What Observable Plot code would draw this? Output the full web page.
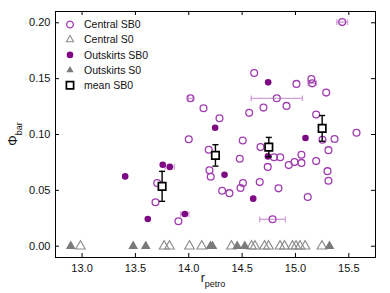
<!DOCTYPE html>
<html><head><meta charset="utf-8">
<script src="https://cdn.jsdelivr.net/npm/d3@7"></script>
<script src="https://cdn.jsdelivr.net/npm/@observablehq/plot@0.6"></script>
<style>
body{margin:0;background:#fff;}
svg{font-family:"Liberation Sans",Arial,sans-serif;}
</style></head><body><div id="chart"></div>
<script>
// Central SB0 (open circles)
const centralSB0_x = [15.438,14.613,15.009,15.149,15.157,15.288,14.825,14.700,14.916,14.138,14.016,14.288,14.566,15.194,15.253,15.366,15.572,14.506,14.672,14.000,14.187,14.478,14.194,14.206,13.704,13.688,13.903,14.740,14.799,14.857,15.056,14.991,14.937,15.056,15.194,15.309,15.300,15.309,15.115,14.841,14.665,14.508,14.485,14.313,14.381,14.785];
const centralSB0_y = [0.2006,0.1551,0.1453,0.1496,0.1458,0.1375,0.1324,0.1241,0.1256,0.1235,0.1324,0.1146,0.1194,0.1179,0.0953,0.0960,0.1015,0.0946,0.0887,0.0958,0.0863,0.0783,0.0679,0.0622,0.0565,0.0393,0.0223,0.0710,0.0797,0.0797,0.0819,0.0753,0.0726,0.0746,0.0762,0.0860,0.0672,0.0586,0.0440,0.0518,0.0574,0.0565,0.0521,0.0496,0.0475,0.0241];
const centralSB0_xerr = [0.05,0,0,0,0.04,0,0.24,0,0,0,0.02,0,0,0,0,0,0,0,0,0,0,0,0,0,0,0,0,0,0,0,0,0,0,0,0,0,0,0,0,0,0,0,0,0,0,0.12];
// Outskirts SB0 (filled circles)
const outSB0_x = [14.744,14.247,15.094,14.742,13.756,13.822,13.404,13.616,13.963,14.335,14.604];
const outSB0_y = [0.1467,0.1060,0.0969,0.0804,0.0729,0.0710,0.0625,0.0244,0.0288,0.0640,0.0426];
const outSB0_xerr = [0,0,0,0,0,0.044,0,0,0.038,0,0];
// Central S0 (open triangles, Phi = 0)
const centralS0_x = [12.985,13.769,13.819,14.007,14.122,14.400,14.588,14.620,14.710,14.747,14.855,14.897,14.972,15.005,15.042,15.090,15.248];
// Outskirts S0 (filled triangles, Phi = 0)
const outS0_x = [12.894,13.479,13.597,14.203,14.222,14.454,14.525,15.319];
// mean SB0
const mean_x = [13.75,14.25,14.75,15.25];
const mean_y = [0.0536,0.0813,0.0887,0.1055];
const mean_err = [0.0134,0.0096,0.0087,0.0115];
// ticks
const xTicks = [13.0,13.5,14.0,14.5,15.0,15.5];
const yTicks = [0.00,0.05,0.10,0.15,0.20];

const cSB0 = centralSB0_x.map((x,i)=>({x, y:centralSB0_y[i], e:centralSB0_xerr[i]}));
const oSB0 = outSB0_x.map((x,i)=>({x, y:outSB0_y[i], e:outSB0_xerr[i]}));
const cS0 = centralS0_x.map(x=>({x, y:0}));
const oS0 = outS0_x.map(x=>({x, y:0}));
const means = mean_x.map((x,i)=>({x, y:mean_y[i], e:mean_err[i]}));
const errC = cSB0.filter(d=>d.e>0), errO = oSB0.filter(d=>d.e>0);

const capV = {draw(ctx, size){ const h = Math.sqrt(size)/2; ctx.moveTo(0,-h); ctx.lineTo(0,h);} };
const capH = {draw(ctx, size){ const h = Math.sqrt(size)/2; ctx.moveTo(-h,0); ctx.lineTo(h,0);} };

const W=390, H=293, mL=55, mR=15, mT=11, mB=36;
const openPurple = "#a03cb0", darkPurple = "#7d0a82", errPurple = "#d2a0d8";
const fx = d3.format(".1f"), fy = d3.format(".2f");

const chart = Plot.plot({
  width: W, height: H,
  marginLeft: mL, marginRight: mR, marginTop: mT, marginBottom: mB,
  style: {fontFamily: '"Liberation Sans", Arial, sans-serif', fontSize: "11px", background: "#fff"},
  x: {domain: [12.751, 15.75], label: null},
  y: {domain: [-0.0101, 0.2101], label: null},
  marks: [
    Plot.axisX(xTicks, {tickSize: 0, tickPadding: 7, fontSize: 11, fill: "#111", tickFormat: fx, label: null}),
    Plot.axisY(yTicks, {tickSize: 0, tickPadding: 5, fontSize: 11, fill: "#111", tickFormat: fy, label: null}),
    // inward ticks on all four sides
    Plot.tickX(xTicks, {x: d=>d, insetTop: H-mT-mB-4, stroke: "#000"}),
    Plot.tickX(xTicks, {x: d=>d, insetBottom: H-mT-mB-4, stroke: "#000"}),
    Plot.tickY(yTicks, {y: d=>d, insetRight: W-mL-mR-4, stroke: "#000"}),
    Plot.tickY(yTicks, {y: d=>d, insetLeft: W-mL-mR-4, stroke: "#000"}),
    // horizontal error bars
    Plot.ruleY(errC, {y:"y", x1: d=>d.x-d.e, x2: d=>d.x+d.e, stroke: errPurple, strokeWidth: 1.3}),
    Plot.dot(errC, {x: d=>d.x-d.e, y:"y", symbol: capV, r: 3.2, stroke: errPurple, strokeWidth: 1.3}),
    Plot.dot(errC, {x: d=>d.x+d.e, y:"y", symbol: capV, r: 3.2, stroke: errPurple, strokeWidth: 1.3}),
    Plot.ruleY(errO, {y:"y", x1: d=>d.x-d.e, x2: d=>d.x+d.e, stroke: errPurple, strokeWidth: 1.3}),
    Plot.dot(errO, {x: d=>d.x-d.e, y:"y", symbol: capV, r: 3.2, stroke: errPurple, strokeWidth: 1.3}),
    Plot.dot(errO, {x: d=>d.x+d.e, y:"y", symbol: capV, r: 3.2, stroke: errPurple, strokeWidth: 1.3}),
    // S0 triangles
    Plot.dot(cS0, {x:"x", y:"y", symbol: "triangle", r: 3.6, stroke: "#8c8c8c", strokeWidth: 1.1, fill: "none"}),
    Plot.dot(oS0, {x:"x", y:"y", symbol: "triangle", r: 3.6, fill: "#7a7a7a", stroke: "none"}),
    // SB0 circles
    Plot.dot(cSB0, {x:"x", y:"y", r: 3.4, stroke: openPurple, strokeWidth: 1.3, fill: "none"}),
    Plot.dot(oSB0, {x:"x", y:"y", r: 3.3, fill: darkPurple, stroke: "none"}),
    // mean SB0 with vertical error bars
    Plot.ruleX(means, {x:"x", y1: d=>d.y-d.e, y2: d=>d.y+d.e, stroke: "#000", strokeWidth: 1.4}),
    Plot.dot(means, {x:"x", y: d=>d.y-d.e, symbol: capH, r: 3.4, stroke: "#000", strokeWidth: 1.4}),
    Plot.dot(means, {x:"x", y: d=>d.y+d.e, symbol: capH, r: 3.4, stroke: "#000", strokeWidth: 1.4}),
    Plot.dot(means, {x:"x", y:"y", symbol: "square", r: 4.2, fill: "#fff", stroke: "#000", strokeWidth: 1.7}),
    Plot.frame({stroke: "#000", strokeWidth: 1})
  ]
});
document.getElementById("chart").appendChild(chart);

// Axis labels with subscripts and legend
const svg = d3.select(chart);
const ylab = svg.append("text")
  .attr("transform", `translate(17,${mT + (H-mT-mB)/2}) rotate(-90)`)
  .attr("text-anchor", "middle").attr("font-size", 13).attr("fill", "#111");
ylab.append("tspan").text("Φ");
ylab.append("tspan").attr("baseline-shift", "sub").attr("font-size", 9).text("bar");
const xlab = svg.append("text")
  .attr("x", mL + (W-mL-mR)/2 - 2).attr("y", H - 11)
  .attr("text-anchor", "middle").attr("font-size", 12.5).attr("fill", "#111");
xlab.append("tspan").text("r");
xlab.append("tspan").attr("baseline-shift", "sub").attr("font-size", 9).text("petro");

const legendItems = [
  {label: "Central SB0", sym: d3.symbolCircle, size: Math.PI*3.4*3.4, fill: "none", stroke: openPurple, sw: 1.3},
  {label: "Central S0", sym: d3.symbolTriangle, size: 22, fill: "none", stroke: "#8c8c8c", sw: 1.1},
  {label: "Outskirts SB0", sym: d3.symbolCircle, size: Math.PI*3.3*3.3, fill: darkPurple, stroke: "none", sw: 0},
  {label: "Outskirts S0", sym: d3.symbolTriangle, size: 22, fill: "#7a7a7a", stroke: "none", sw: 0},
  {label: "mean SB0", sym: d3.symbolSquare, size: 52, fill: "#fff", stroke: "#000", sw: 1.7}
];
const lg = svg.append("g").attr("text-anchor", "start");
legendItems.forEach((it, i) => {
  const yy = 24.5 + i*15.2;
  lg.append("path").attr("d", d3.symbol(it.sym, it.size)()).attr("transform", `translate(70,${yy})`)
    .attr("fill", it.fill).attr("stroke", it.stroke).attr("stroke-width", it.sw);
  lg.append("text").attr("x", 84).attr("y", yy).attr("dy", "0.35em").attr("text-anchor", "start")
    .attr("font-size", 10.5).attr("fill", "#111").text(it.label);
});
</script></body></html>
